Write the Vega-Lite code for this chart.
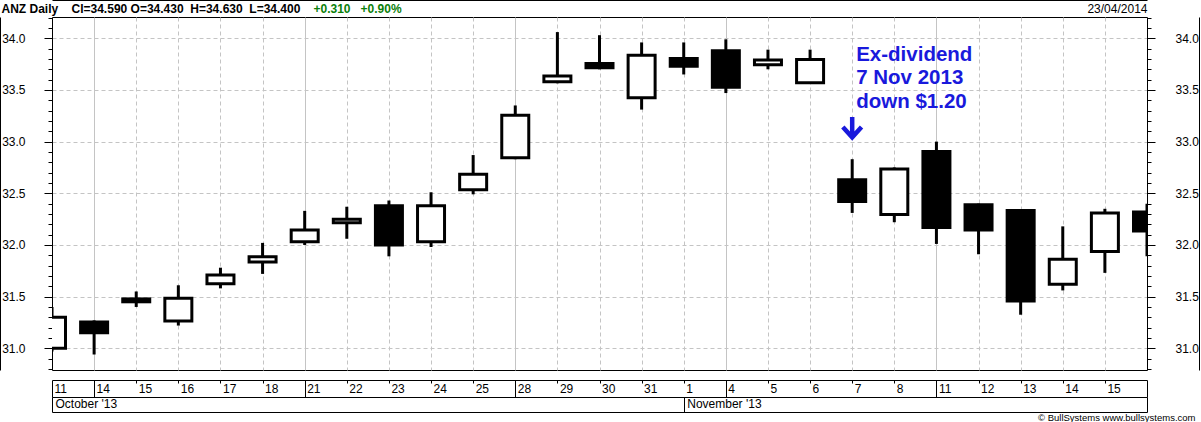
{
  "$schema": "https://vega.github.io/schema/vega-lite/v6.json",
  "width": 1095,
  "height": 353,
  "autosize": {"type": "none"},
  "padding": {"left": 52, "top": 17, "right": 54, "bottom": 52},
  "background": "white",
  "data": {
    "values": [
      {"date": "2013-10-11", "open": 31.00, "high": 31.40, "low": 30.97, "close": 31.30},
      {"date": "2013-10-14", "open": 31.255, "high": 31.27, "low": 30.94, "close": 31.15},
      {"date": "2013-10-15", "open": 31.45, "high": 31.55, "low": 31.40, "close": 31.478},
      {"date": "2013-10-16", "open": 31.265, "high": 31.61, "low": 31.22, "close": 31.485},
      {"date": "2013-10-17", "open": 31.625, "high": 31.78, "low": 31.58, "close": 31.71},
      {"date": "2013-10-18", "open": 31.835, "high": 32.02, "low": 31.72, "close": 31.885},
      {"date": "2013-10-21", "open": 32.03, "high": 32.33, "low": 32.00, "close": 32.145},
      {"date": "2013-10-22", "open": 32.215, "high": 32.37, "low": 32.06, "close": 32.25},
      {"date": "2013-10-23", "open": 32.38, "high": 32.43, "low": 31.89, "close": 32.00},
      {"date": "2013-10-24", "open": 32.03, "high": 32.51, "low": 31.98, "close": 32.38},
      {"date": "2013-10-25", "open": 32.535, "high": 32.87, "low": 32.49, "close": 32.685},
      {"date": "2013-10-28", "open": 32.845, "high": 33.35, "low": 32.83, "close": 33.255},
      {"date": "2013-10-29", "open": 33.58, "high": 34.06, "low": 33.565, "close": 33.635},
      {"date": "2013-10-30", "open": 33.755, "high": 34.03, "low": 33.70, "close": 33.715},
      {"date": "2013-10-31", "open": 33.425, "high": 33.96, "low": 33.31, "close": 33.835},
      {"date": "2013-11-01", "open": 33.805, "high": 33.96, "low": 33.65, "close": 33.73},
      {"date": "2013-11-04", "open": 33.88, "high": 33.99, "low": 33.47, "close": 33.525},
      {"date": "2013-11-05", "open": 33.745, "high": 33.89, "low": 33.70, "close": 33.79},
      {"date": "2013-11-06", "open": 33.57, "high": 33.89, "low": 33.57, "close": 33.795},
      {"date": "2013-11-07", "open": 32.63, "high": 32.83, "low": 32.31, "close": 32.42},
      {"date": "2013-11-08", "open": 32.295, "high": 32.75, "low": 32.22, "close": 32.735},
      {"date": "2013-11-11", "open": 32.905, "high": 33.00, "low": 32.01, "close": 32.17},
      {"date": "2013-11-12", "open": 32.39, "high": 32.40, "low": 31.91, "close": 32.145},
      {"date": "2013-11-13", "open": 32.333, "high": 32.34, "low": 31.325, "close": 31.457},
      {"date": "2013-11-14", "open": 31.62, "high": 32.18, "low": 31.56, "close": 31.862},
      {"date": "2013-11-15", "open": 31.937, "high": 32.35, "low": 31.73, "close": 32.31},
      {"date": "2013-11-18", "open": 32.32, "high": 32.40, "low": 31.89, "close": 32.135}
    ]
  },
  "layer": [
    {
      "mark": {"type": "rule", "strokeWidth": 3, "color": "black", "clip": true},
      "encoding": {
        "x": {
          "field": "date", "type": "ordinal",
          "scale": {"type": "point", "padding": 0, "domain": ["2013-10-11","2013-10-14","2013-10-15","2013-10-16","2013-10-17","2013-10-18","2013-10-21","2013-10-22","2013-10-23","2013-10-24","2013-10-25","2013-10-28","2013-10-29","2013-10-30","2013-10-31","2013-11-01","2013-11-04","2013-11-05","2013-11-06","2013-11-07","2013-11-08","2013-11-11","2013-11-12","2013-11-13","2013-11-14","2013-11-15","2013-11-18"]},
          "axis": {
            "orient": "bottom", "offset": 10, "title": null,
            "labelExpr": "datum.value == '2013-11-18' ? '' : '' + toNumber(substring(datum.value, 8, 10))",
            "labelAngle": 0, "labelAlign": "left", "labelBaseline": "top", "labelOffset": 2,
            "labelOverlap": false, "labelFlush": false, "labelBound": false,
            "labelFontSize": 12,
            "tickSize": {"condition": {"test": "indexof(['2013-10-11','2013-10-14','2013-10-21','2013-10-28','2013-11-04','2013-11-11','2013-11-18'], datum.value) >= 0", "value": 17}, "value": 3},
            "labelPadding": {"condition": {"test": "indexof(['2013-10-11','2013-10-14','2013-10-21','2013-10-28','2013-11-04','2013-11-11','2013-11-18'], datum.value) >= 0", "value": -14}, "value": 0},
            "grid": true, "gridColor": "#c4c4c4", "gridWidth": 1,
            "gridDash": {"condition": {"test": "indexof(['2013-10-14','2013-10-21','2013-10-28','2013-11-04','2013-11-11'], datum.value) >= 0", "value": []}, "value": [4, 3]}
          }
        },
        "y": {
          "field": "low", "type": "quantitative",
          "scale": {"domain": [30.79, 34.206], "nice": false, "zero": false},
          "axis": {
            "orient": "left",
            "values": [30.8,30.9,31.0,31.1,31.2,31.3,31.4,31.5,31.6,31.7,31.8,31.9,32.0,32.1,32.2,32.3,32.4,32.5,32.6,32.7,32.8,32.9,33.0,33.1,33.2,33.3,33.4,33.5,33.6,33.7,33.8,33.9,34.0,34.1,34.2],
            "tickSize": {"condition": {"test": "abs(datum.value*2 - round(datum.value*2)) < 0.01", "value": 8}, "value": 4},
            "labelExpr": "abs(datum.value*2 - round(datum.value*2)) < 0.01 ? format(datum.value, '.1f') : ''",
            "labelPadding": 19, "labelAlign": "right", "labelBaseline": "middle",
            "labelOverlap": false, "labelFlush": false, "labelBound": false, "labelFontSize": 12,
            "grid": true, "gridColor": "#c4c4c4", "gridDash": [4, 3],
            "gridOpacity": {"condition": {"test": "abs(datum.value*2 - round(datum.value*2)) < 0.01", "value": 1}, "value": 0},
            "title": "+0.310\u00a0\u00a0 +0.90%", "titleX": 261, "titleY": -4.5, "titleAngle": 0,
            "titleAlign": "left", "titleBaseline": "alphabetic", "titleColor": "#0a800a",
            "titleFontSize": 12, "titleFontWeight": "bold"
          }
        },
        "y2": {"field": "high"}
      }
    },
    {
      "mark": {"type": "bar", "width": 27, "stroke": "black", "strokeWidth": 3, "strokeJoin": "miter", "clip": true},
      "encoding": {
        "x": {
          "field": "date", "type": "ordinal",
          "axis": {
            "orient": "bottom", "offset": 27, "title": null,
            "values": ["2013-10-11", "2013-11-01", "2013-11-18"],
            "labelExpr": "datum.value == '2013-10-11' ? \"October '13\" : (datum.value == '2013-11-01' ? \"November '13\" : '')",
            "tickSize": 15, "labelPadding": -13.5, "labelAlign": "left", "labelBaseline": "top",
            "labelOffset": 3, "labelAngle": 0, "labelOverlap": false, "labelFlush": false, "labelBound": false,
            "labelFontSize": 12, "grid": false
          }
        },
        "y": {
          "field": "open", "type": "quantitative",
          "axis": {
            "orient": "right",
            "values": [30.8,30.9,31.0,31.1,31.2,31.3,31.4,31.5,31.6,31.7,31.8,31.9,32.0,32.1,32.2,32.3,32.4,32.5,32.6,32.7,32.8,32.9,33.0,33.1,33.2,33.3,33.4,33.5,33.6,33.7,33.8,33.9,34.0,34.1,34.2],
            "tickSize": {"condition": {"test": "abs(datum.value*2 - round(datum.value*2)) < 0.01", "value": 8}, "value": 4},
            "labelExpr": "abs(datum.value*2 - round(datum.value*2)) < 0.01 ? format(datum.value, '.1f') : ''",
            "labelPadding": 20, "labelAlign": "left", "labelBaseline": "middle",
            "labelOverlap": false, "labelFlush": false, "labelBound": false, "labelFontSize": 12,
            "grid": false, "title": null
          }
        },
        "y2": {"field": "close"},
        "fill": {"condition": {"test": "datum.close >= datum.open", "value": "white"}, "value": "black"}
      }
    },
    {
      "data": {"values": [{}]},
      "mark": {"type": "text", "text": ["Ex-dividend", "7 Nov 2013", "down $1.20"], "align": "left", "baseline": "alphabetic", "dx": 4, "font": "Liberation Sans", "fontSize": 20.5, "fontWeight": "bold", "color": "#1919dc", "lineHeight": 23.5, "clip": false},
      "encoding": {
        "x": {
          "datum": "2013-11-07", "type": "ordinal",
          "axis": {
            "orient": "top", "offset": 17, "ticks": false, "labels": false, "grid": false, "domain": true,
            "title": "ANZ Daily\u00a0\u00a0\u00a0\u00a0Cl=34.590 O=34.430\u00a0\u00a0H=34.630\u00a0\u00a0L=34.400",
            "titleX": -51, "titleY": 12.5, "titleAlign": "left", "titleAnchor": "start", "titleBaseline": "alphabetic",
            "titleFontSize": 12, "titleFontWeight": "bold", "titleColor": "black"
          }
        },
        "y": {
          "datum": 33.783, "type": "quantitative",
          "axis": {"orient": "left", "offset": 52, "ticks": false, "labels": false, "grid": false, "domain": true, "title": null}
        }
      }
    },
    {
      "data": {"values": [{}]},
      "mark": {"type": "point", "shape": "M0,-1L0,0.85M-0.85,-0.1L0,0.85L0.85,-0.1", "size": 484, "filled": false, "color": "#1919dc", "strokeWidth": 4.5, "opacity": 1, "strokeCap": "butt", "strokeJoin": "miter", "clip": false},
      "encoding": {
        "x": {
          "datum": "2013-11-07", "type": "ordinal",
          "axis": {
            "orient": "bottom", "offset": 42, "ticks": false, "labels": false, "grid": false, "domain": true,
            "title": "\u00a9 BullSystems www.bullsystems.com",
            "titleX": 1143, "titleY": 8.5, "titleAlign": "right", "titleAnchor": "end", "titleBaseline": "alphabetic",
            "titleFontSize": 9.5, "titleFontWeight": "normal", "titleColor": "black"
          }
        },
        "y": {
          "datum": 33.132, "type": "quantitative",
          "axis": {
            "orient": "right", "offset": 52, "ticks": false, "labels": false, "grid": false, "domain": true,
            "title": "23/04/2014", "titleX": -52, "titleY": -4.5, "titleAngle": 0, "titleAlign": "right",
            "titleBaseline": "alphabetic", "titleFontSize": 12, "titleFontWeight": "normal", "titleColor": "black"
          }
        }
      }
    }
  ],
  "resolve": {"axis": {"x": "independent", "y": "independent"}},
  "config": {
    "view": {"stroke": "black", "strokeWidth": 1},
    "axis": {
      "labelFont": "Liberation Sans", "titleFont": "Liberation Sans",
      "labelColor": "black", "domainColor": "black", "tickColor": "black", "domainWidth": 1, "tickWidth": 1
    }
  }
}
